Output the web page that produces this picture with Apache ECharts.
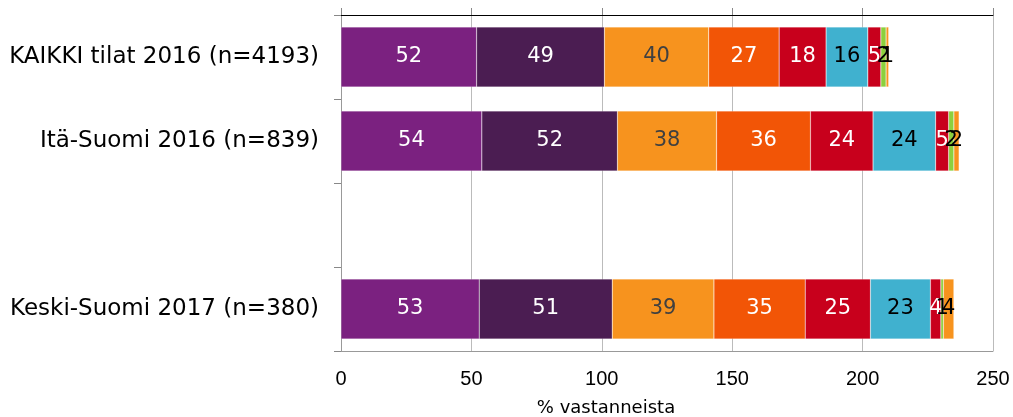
<!DOCTYPE html>
<html>
<head>
<meta charset="utf-8">
<script src="https://cdn.jsdelivr.net/npm/echarts@6/dist/echarts.min.js"></script>
<style>
html,body{margin:0;padding:0;background:#fff;}
#chart{width:1013px;height:417px;}
</style>
</head>
<body>
<div id="chart"></div>
<script>
var categories = ['KAIKKI tilat 2016 (n=4193)', 'Itä-Suomi 2016 (n=839)', '', 'Keski-Suomi 2017 (n=380)'];
var s1 = [52, 54, null, 53];
var s2 = [49, 52, null, 51];
var s3 = [40, 38, null, 39];
var s4 = [27, 36, null, 35];
var s5 = [18, 24, null, 25];
var s6 = [16, 24, null, 23];
var s7 = [5, 5, null, 4];
var s8 = [2, 2, null, 1];
var s9 = [1, 2, null, 4];
var xTicks = [0, 50, 100, 150, 200, 250];
var axisTitle = '% vastanneista';

var seriesData = [s1, s2, s3, s4, s5, s6, s7, s8, s9];
var colors = ['#7B2180', '#4B1D52', '#F7931E', '#F25506', '#C8001C', '#40B1CF', '#C8001C', '#8CD03C', '#F7931E'];
var labelColors = ['#ffffff', '#ffffff', '#404040', '#ffffff', '#ffffff', '#000000', '#ffffff', '#000000', '#000000'];

var font = 'DejaVu Sans, Verdana, sans-serif';
var chart = echarts.init(document.getElementById('chart'));
chart.setOption({
  animation: false,
  grid: {left: 341, top: 15, right: 20, bottom: 66, containLabel: false},
  xAxis: [{
    type: 'value', position: 'bottom', min: 0, max: 250, interval: 50,
    axisLine: {show: true, lineStyle: {color: '#999', width: 1}},
    axisTick: {show: false},
    splitLine: {show: true, lineStyle: {color: '#bbb', width: 1}},
    axisLabel: {color: '#000', fontSize: 20, fontFamily: 'Liberation Sans, Arial, sans-serif', margin: 18,
      formatter: function (v) { return xTicks.indexOf(v) >= 0 ? String(v) : ''; }}
  }, {
    type: 'value', position: 'top', min: 0, max: 250, interval: 50,
    axisLine: {show: true, lineStyle: {color: '#000', width: 1}},
    axisTick: {show: true, inside: false, length: 7, lineStyle: {color: '#888'}},
    splitLine: {show: false},
    axisLabel: {show: false}
  }],
  yAxis: [{
    type: 'category', inverse: true, data: categories,
    axisLine: {show: true, lineStyle: {color: '#000', width: 1}},
    axisTick: {show: true, length: 7, lineStyle: {color: '#888'}},
    axisLabel: {color: '#000', fontSize: 23, fontFamily: font, margin: 22}
  }, {
    type: 'category', inverse: true, data: categories, position: 'right',
    axisLine: {show: true, lineStyle: {color: '#999', width: 1}},
    axisTick: {show: false}, axisLabel: {show: false}
  }],
  graphic: [{
    type: 'text', x: 606, y: 408,
    style: {text: axisTitle, fontSize: 18, fontFamily: font, fill: '#000', textAlign: 'center', textVerticalAlign: 'middle'}
  }],
  series: seriesData.map(function (d, i) {
    return {
      type: 'bar', stack: 'total', data: d, barWidth: 60, xAxisIndex: 0, yAxisIndex: 0,
      itemStyle: {color: colors[i], borderColor: 'rgba(255,255,255,0.4)', borderWidth: 0.5},
      label: {show: true, position: 'inside', color: labelColors[i], fontSize: 21, fontFamily: font}
    };
  })
});
</script>
</body>
</html>
